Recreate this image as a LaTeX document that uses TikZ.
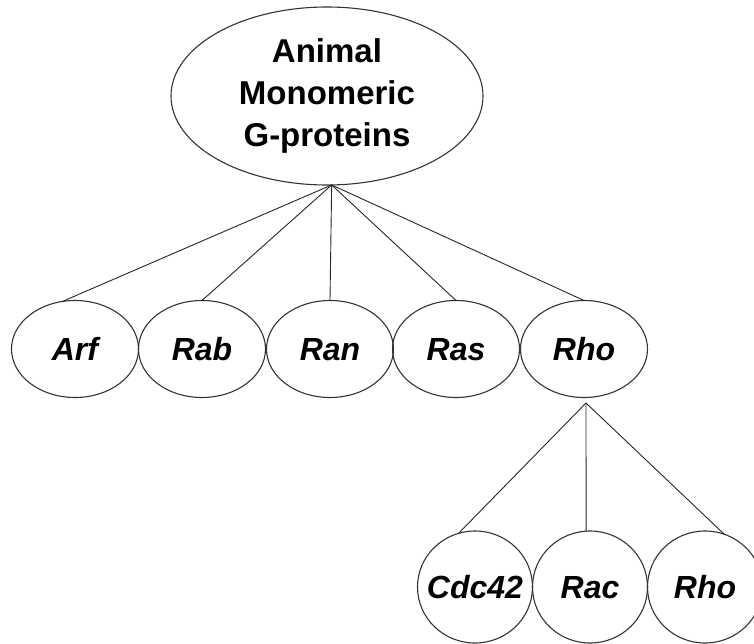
\documentclass[tikz,border=0pt]{standalone}
\usepackage{fontspec}
\setmainfont{Liberation Sans}
\usetikzlibrary{shapes.geometric}
\begin{document}
\begin{tikzpicture}[x=1pt,y=-1pt,
  oval/.style={draw=black!80, line width=1.1pt, ellipse, inner sep=0pt, outer sep=0pt},
  namefont/.style={font=\fontsize{32}{38}\selectfont\bfseries\itshape,
    text height=23pt, text depth=0pt, inner sep=0pt},
  word/.style={label={[namefont]center:#1}},
  groupnode/.style={oval, minimum width=312pt, minimum height=178pt, align=center,
    font=\fontsize{33}{42}\selectfont\bfseries},
  familynode/.style={oval, minimum width=127pt, minimum height=97pt},
  subnode/.style={oval, minimum width=115pt, minimum height=112pt},
  link/.style={draw=black!85, line width=0.9pt}]
\useasboundingbox (0,0) rectangle (754,644);
\clip (0,0) rectangle (754,644);

% root of the tree
\node[groupnode] (root) at (327,96) {Animal\\Monomeric\\G-proteins};

% families
\node[familynode, word=Arf] (arf) at (75,349)  {};
\node[familynode, word=Rab] (rab) at (202,349) {};
\node[familynode, word=Ran] (ran) at (330,349) {};
\node[familynode, word=Ras] (ras) at (456,349) {};
\node[familynode, word=Rho] (rho) at (584,349) {};

% Rho subfamilies
\node[subnode, word=Cdc42] (cdc)  at (475,587) {};
\node[subnode, word=Rac]   (rac)  at (590,587) {};
\node[subnode, word=Rho]   (rhoA) at (705,587) {};

\coordinate (hub) at (root.-87);
\coordinate (rhohub) at (586,403);

\draw[link] (hub) -- (arf.105);
\draw[link] (hub) -- (rab.north);
\draw[link] (hub) -- (ran.north);
\draw[link] (hub) -- (ras.north);
\draw[link] (hub) -- (rho.north);

\draw[link] (rhohub) -- (cdc.107);
\draw[link] (rhohub) -- (rac.94);
\draw[link] (rhohub) -- (rhoA.70);
\end{tikzpicture}
\end{document}
